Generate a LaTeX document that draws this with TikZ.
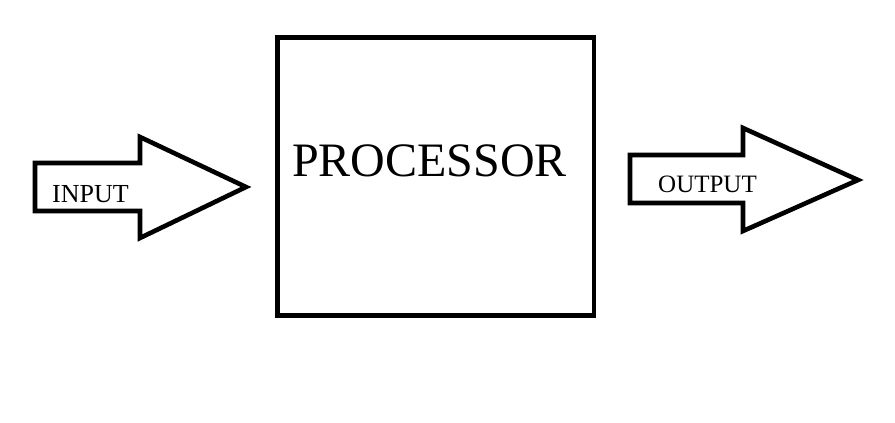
\documentclass[tikz,border=0pt]{standalone}
\usepackage{fontspec}
\setmainfont{Liberation Serif}
\tikzset{
  outline/.style={draw=black, line width=4.6pt, line join=miter, fill=white},
  lbl/.style={inner sep=0pt, anchor=base west, text=black}
}
\begin{document}
\begin{tikzpicture}[x=1pt,y=-1pt]
\useasboundingbox[fill=white] (0,0) rectangle (895,423);
% processor box
\node[outline, minimum width=316.5pt, minimum height=278pt, inner sep=0pt, outer sep=0pt, anchor=north west] (proc) at (277.5,37.5) {};
\node[lbl, font=\fontsize{48}{48}\selectfont] (ptext) at (292,176) {PROCESSOR};
% input arrow
\coordinate (in1) at (35,163);
\coordinate (in2) at (140,163);
\coordinate (in3) at (140,137);
\coordinate (in4) at (246,187);
\coordinate (in5) at (140,238);
\coordinate (in6) at (140,211);
\coordinate (in7) at (35,211);
\draw[outline] (in1) -- (in2) -- (in3) -- (in4) -- (in5) -- (in6) -- (in7) -- cycle;
\node[lbl, font=\fontsize{26}{26}\selectfont] (intext) at (52,202) {INPUT};
% output arrow
\coordinate (out1) at (630,155);
\coordinate (out2) at (743,155);
\coordinate (out3) at (743,128);
\coordinate (out4) at (858,180);
\coordinate (out5) at (743,231);
\coordinate (out6) at (743,203);
\coordinate (out7) at (630,203);
\draw[outline] (out1) -- (out2) -- (out3) -- (out4) -- (out5) -- (out6) -- (out7) -- cycle;
\node[lbl, font=\fontsize{25}{25}\selectfont] (outtext) at (658,192) {OUTPUT};
\end{tikzpicture}
\end{document}
